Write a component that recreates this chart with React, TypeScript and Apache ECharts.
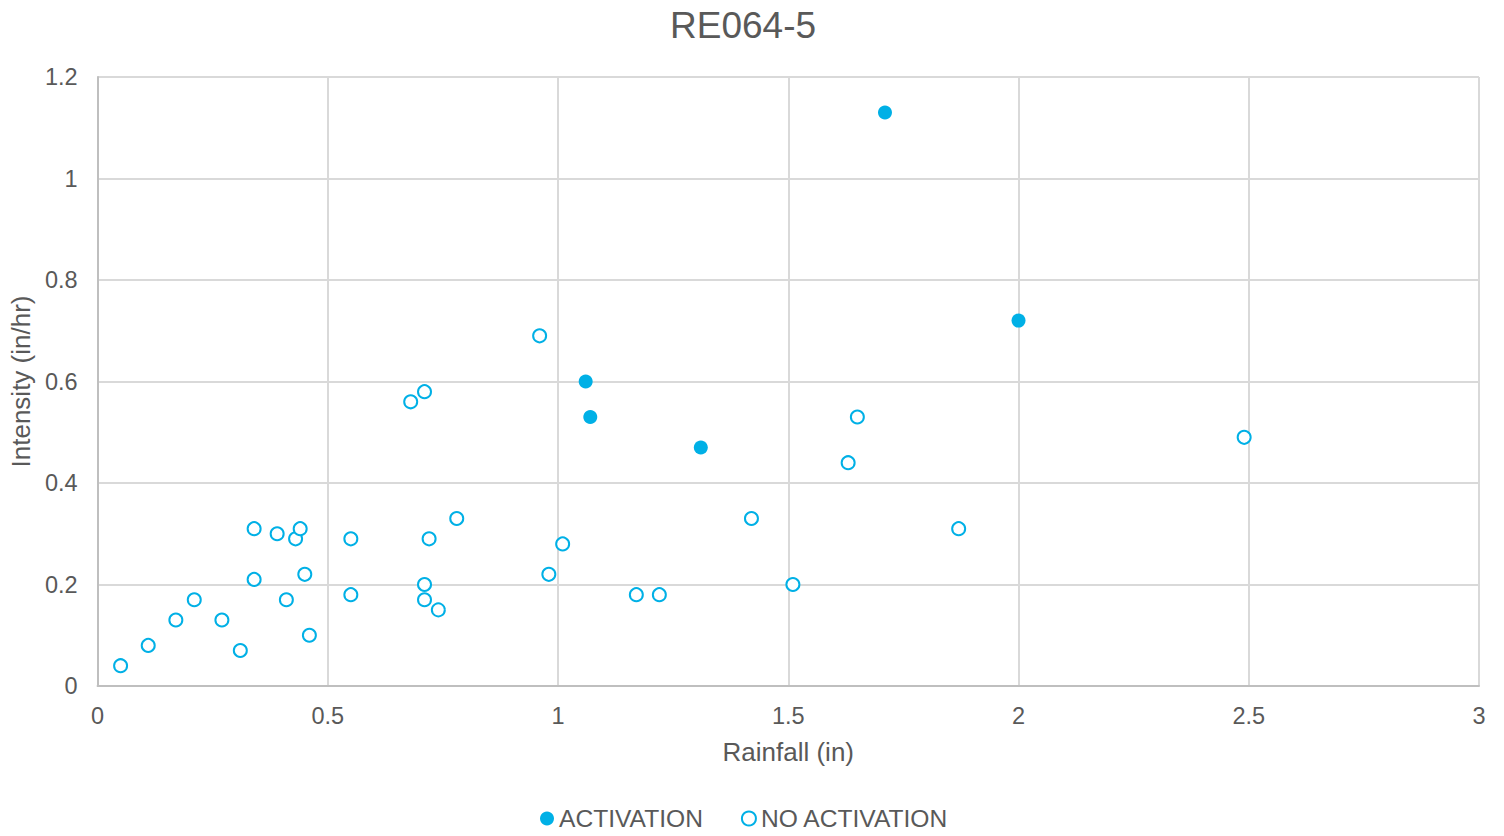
import React, { useEffect, useRef } from "react";
import * as echarts from "echarts";

const activationX = [1.71, 2.0, 1.06, 1.07, 1.31];
const activationY = [1.13, 0.72, 0.6, 0.53, 0.47];

const noActivationX = [
  0.05, 0.11, 0.17, 0.21, 0.27, 0.31, 0.34, 0.34, 0.39, 0.41, 0.43, 0.44, 0.45, 0.46,
  0.55, 0.55, 0.68, 0.71, 0.71, 0.71, 0.72, 0.74, 0.78, 0.96, 0.98, 1.01, 1.17, 1.22,
  1.42, 1.51, 1.63, 1.65, 1.87, 2.49,
];
const noActivationY = [
  0.04, 0.08, 0.13, 0.17, 0.13, 0.07, 0.31, 0.21, 0.3, 0.17, 0.29, 0.31, 0.22, 0.1,
  0.29, 0.18, 0.56, 0.58, 0.2, 0.17, 0.29, 0.15, 0.33, 0.69, 0.22, 0.28, 0.18, 0.18,
  0.33, 0.2, 0.44, 0.53, 0.31, 0.49,
];

const seriesNames = ["ACTIVATION", "NO ACTIVATION"];
const chartTitle = "RE064-5";
const xAxisTitle = "Rainfall (in)";
const yAxisTitle = "Intensity (in/hr)";

const COLOR = "#00B0E6";
const FONT = "Liberation Sans, Arial, sans-serif";

export default function App() {
  const ref = useRef<HTMLDivElement>(null);
  useEffect(() => {
    document.body.style.margin = "0";
    if (!ref.current) return;
    const chart = echarts.init(ref.current, null, { renderer: "svg" });
    chart.setOption({
      animation: false,
      backgroundColor: "#ffffff",
      textStyle: { fontFamily: FONT },
      title: {
        text: chartTitle,
        left: 665,
        top: 2,
        textStyle: { fontSize: 37, fontWeight: "normal", color: "#595959", fontFamily: FONT },
      },
      grid: { left: 97, right: 25, top: 77, bottom: 150, containLabel: false },
      xAxis: {
        type: "value",
        min: 0,
        max: 3,
        interval: 0.5,
        name: xAxisTitle,
        nameLocation: "middle",
        nameGap: 53,
        nameTextStyle: { fontSize: 26, color: "#595959", fontFamily: FONT },
        axisLine: { show: true, lineStyle: { color: "#bfbfbf", width: 2 } },
        axisTick: { show: false },
        axisLabel: { fontSize: 23.5, color: "#595959", margin: 18, fontFamily: FONT },
        splitLine: { show: true, lineStyle: { color: "#d9d9d9", width: 2 } },
      },
      yAxis: {
        type: "value",
        min: 0,
        max: 1.2,
        interval: 0.2,
        name: yAxisTitle,
        nameLocation: "middle",
        nameGap: 62,
        nameTextStyle: { fontSize: 26, color: "#595959", fontFamily: FONT },
        axisLine: { show: true, lineStyle: { color: "#bfbfbf", width: 2 } },
        axisTick: { show: false },
        axisLabel: { fontSize: 23.5, color: "#595959", margin: 20, fontFamily: FONT },
        splitLine: { show: true, lineStyle: { color: "#d9d9d9", width: 2 } },
      },
      legend: {
        bottom: 0,
        left: 535,
        itemGap: 38,
        itemWidth: 14,
        itemHeight: 14,
        icon: "circle",
        textStyle: { fontSize: 24.6, color: "#595959", fontFamily: FONT },
        data: [
          { name: seriesNames[0], itemStyle: { color: COLOR } },
          { name: seriesNames[1], itemStyle: { color: "#ffffff", borderColor: COLOR, borderWidth: 2 } },
        ],
      },
      series: [
        {
          name: seriesNames[0],
          type: "scatter",
          symbol: "circle",
          symbolSize: 14,
          itemStyle: { color: COLOR, opacity: 1 },
          data: activationX.map((x, i) => [x, activationY[i]]),
          z: 3,
        },
        {
          name: seriesNames[1],
          type: "scatter",
          symbol: "circle",
          symbolSize: 13,
          itemStyle: { color: "#ffffff", borderColor: COLOR, borderWidth: 2, opacity: 1 },
          data: noActivationX.map((x, i) => [x, noActivationY[i]]),
          z: 2,
        },
      ],
    });
    return () => chart.dispose();
  }, []);
  return <div ref={ref} style={{ width: 1504, height: 836 }} />;
}
